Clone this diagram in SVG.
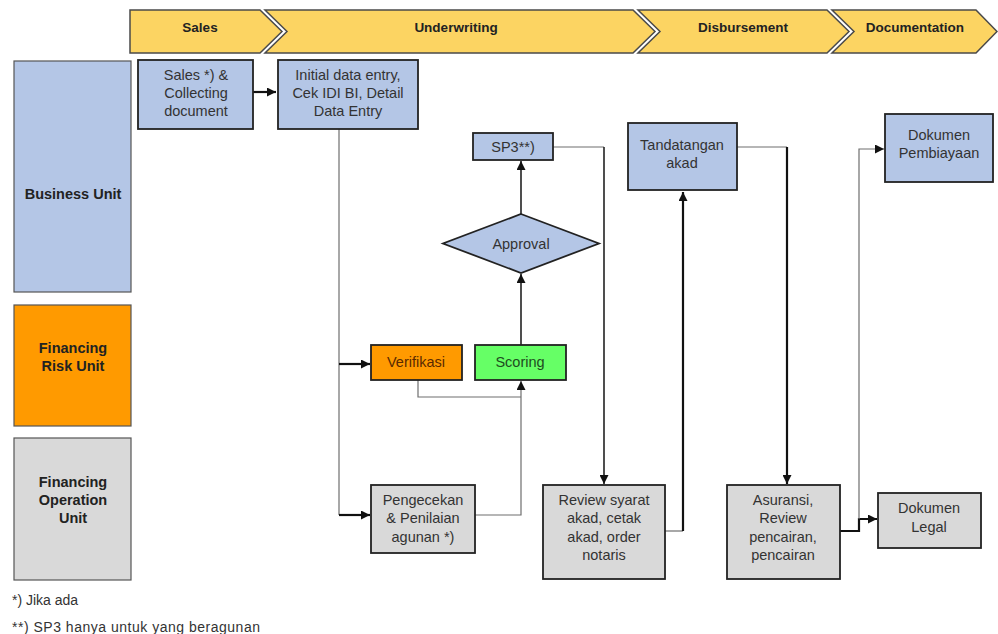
<svg xmlns="http://www.w3.org/2000/svg" width="998" height="634" viewBox="0 0 998 634">
<defs>
<style>
.hdr{fill:#FCD462;stroke:#4a4a4a;stroke-width:1.5}
.ht{font-family:"Liberation Sans",Arial,sans-serif;font-size:13.5px;font-weight:bold;fill:#222;text-anchor:middle}
.lane{stroke:#555;stroke-width:1.2}
.lt{font-family:"Liberation Sans",Arial,sans-serif;font-size:14.5px;font-weight:bold;fill:#222;text-anchor:middle}
.nd{stroke:#222;stroke-width:1.8}
.blue{fill:#B4C6E6}
.grey{fill:#D9D9D9}
.t{font-family:"Liberation Sans",Arial,sans-serif;font-size:14.5px;fill:#333;text-anchor:middle}
.fn{font-family:"Liberation Sans",Arial,sans-serif;font-size:14px;fill:#333}
.thin{fill:none;stroke:#6e6e6e;stroke-width:1.2}
.thick{fill:none;stroke:#111;stroke-width:2.2}
.mid{fill:none;stroke:#222;stroke-width:1.6}
</style>
<marker id="ah" viewBox="0 0 10 10" refX="10" refY="5" markerWidth="9" markerHeight="9" markerUnits="userSpaceOnUse" orient="auto">
<path d="M0,0 L10,5 L0,10 Z" fill="#111"/>
</marker>
</defs>
<g id="header">
<path class="hdr" d="M130,10 L260,10 L282,31.5 L260,53 L130,53 Z"/>
<path class="hdr" d="M265,10 L633,10 L655,31.5 L633,53 L265,53 L287,31.5 Z"/>
<path class="hdr" d="M638,10 L827,10 L849,31.5 L827,53 L638,53 L660,31.5 Z"/>
<path class="hdr" d="M832,10 L976,10 L997,31.5 L976,53 L832,53 L854,31.5 Z"/>
<text class="ht" x="200" y="32">Sales</text>
<text class="ht" x="456" y="32">Underwriting</text>
<text class="ht" x="743" y="32">Disbursement</text>
<text class="ht" x="915" y="32">Documentation</text>
</g>
<g id="lane-business">
<rect class="lane" x="14" y="61" width="117" height="231" fill="#B4C6E6"/>
<text class="lt" x="73" y="199">Business Unit</text>
</g>
<g id="lane-risk">
<rect class="lane" x="14" y="305" width="117" height="121" fill="#FF9A00"/>
<text class="lt" x="73" y="353">Financing</text>
<text class="lt" x="73" y="371">Risk Unit</text>
</g>
<g id="lane-operation">
<rect class="lane" x="14" y="438" width="117" height="142" fill="#D9D9D9"/>
<text class="lt" x="73" y="487">Financing</text>
<text class="lt" x="73" y="505">Operation</text>
<text class="lt" x="73" y="523">Unit</text>
</g>
<g id="connectors">
<path class="thick" d="M253,92 L276,92" marker-end="url(#ah)"/>
<path class="thin" d="M339,129 L339,515"/>
<path class="thick" d="M339,364 L370,364" marker-end="url(#ah)"/>
<path class="thick" d="M339,515 L370,515" marker-end="url(#ah)"/>
<path class="thin" d="M418,380 L418,397 L521,397"/>
<path class="thin" d="M475,515 L521,515 L521,381" marker-end="url(#ah)"/>
<path class="mid" d="M521,345 L521,274" marker-end="url(#ah)"/>
<path class="mid" d="M521,214 L521,161" marker-end="url(#ah)"/>
<path class="thin" d="M553,147 L604,147"/>
<path class="mid" d="M604,147 L604,484" marker-end="url(#ah)"/>
<path class="thin" d="M665,531 L683,531"/>
<path class="thick" d="M683,531 L683,192" marker-end="url(#ah)"/>
<path class="thin" d="M737,147 L787,147"/>
<path class="thick" d="M787,147 L787,484" marker-end="url(#ah)"/>
<path class="thick" d="M840,531 L859,531 L859,519 L877,519" marker-end="url(#ah)"/>
<path class="thin" d="M859,519 L859,149 L884,149" marker-end="url(#ah)"/>
</g>
<g id="n-sales">
<rect class="nd blue" x="138" y="60" width="115" height="69"/>
<text class="t" x="196" y="80">Sales *) &amp;</text>
<text class="t" x="196" y="98">Collecting</text>
<text class="t" x="196" y="116">document</text>
</g>
<g id="n-initial">
<rect class="nd blue" x="278" y="60" width="140" height="69"/>
<text class="t" x="348" y="80">Initial data entry,</text>
<text class="t" x="348" y="98">Cek IDI BI, Detail</text>
<text class="t" x="348" y="116">Data Entry</text>
</g>
<g id="n-sp3">
<rect class="nd blue" x="473" y="133" width="80" height="27"/>
<text class="t" x="513" y="152">SP3**)</text>
</g>
<g id="n-approval">
<path class="nd blue" d="M521,214 L599,243.5 L521,273 L443,243.5 Z"/>
<text class="t" x="521" y="249">Approval</text>
</g>
<g id="n-verifikasi">
<rect class="nd" x="371" y="345" width="91" height="35" fill="#FF9A00"/>
<text class="t" x="416" y="367" style="fill:#5a2a00">Verifikasi</text>
</g>
<g id="n-scoring">
<rect class="nd" x="475" y="345" width="91" height="35" fill="#66FF66"/>
<text class="t" x="520" y="367" style="fill:#1e4d1e">Scoring</text>
</g>
<g id="n-pengecekan">
<rect class="nd grey" x="371" y="485" width="104" height="68"/>
<text class="t" x="423" y="505">Pengecekan</text>
<text class="t" x="423" y="523">&amp; Penilaian</text>
<text class="t" x="423" y="542">agunan *)</text>
</g>
<g id="n-review">
<rect class="nd grey" x="543" y="485" width="122" height="94"/>
<text class="t" x="604" y="505">Review syarat</text>
<text class="t" x="604" y="523">akad, cetak</text>
<text class="t" x="604" y="542">akad, order</text>
<text class="t" x="604" y="560">notaris</text>
</g>
<g id="n-tandatangan">
<rect class="nd blue" x="628" y="123" width="109" height="67"/>
<text class="t" x="682" y="150">Tandatangan</text>
<text class="t" x="682" y="168">akad</text>
</g>
<g id="n-asuransi">
<rect class="nd grey" x="727" y="485" width="113" height="94"/>
<text class="t" x="783" y="505">Asuransi,</text>
<text class="t" x="783" y="523">Review</text>
<text class="t" x="783" y="542">pencairan,</text>
<text class="t" x="783" y="560">pencairan</text>
</g>
<g id="n-pembiayaan">
<rect class="nd blue" x="885" y="114" width="108" height="68"/>
<text class="t" x="939" y="140">Dokumen</text>
<text class="t" x="939" y="158">Pembiayaan</text>
</g>
<g id="n-legal">
<rect class="nd grey" x="878" y="493" width="103" height="55"/>
<text class="t" x="929" y="513">Dokumen</text>
<text class="t" x="929" y="532">Legal</text>
</g>
<g id="footnotes">
<text class="fn" x="12" y="605">*) Jika ada</text>
<text class="fn" x="12" y="632" textLength="248">**) SP3 hanya untuk yang beragunan</text>
</g>
</svg>
